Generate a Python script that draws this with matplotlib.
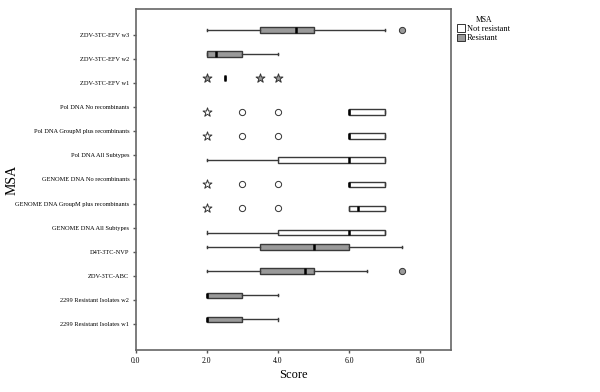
import matplotlib
matplotlib.use("Agg")
import matplotlib.pyplot as plt
from matplotlib.patches import Patch

plt.rcParams['font.family'] = ['Liberation Serif', 'DejaVu Serif']

# categories, bottom to top
categories = [
    '2299 Resistant Isolates w1', '2299 Resistant Isolates w2', 'ZDV-3TC-ABC',
    'D4T-3TC-NVP', 'GENOME DNA All Subtypes', 'GENOME DNA GroupM plus recombinants',
    'GENOME DNA No recombinants', 'Pol DNA All Subtypes',
    'Pol DNA GroupM plus recombinants', 'Pol DNA No recombinants',
    'ZDV-3TC-EFV w1', 'ZDV-3TC-EFV w2', 'ZDV-3TC-EFV w3',
]
# group of each box: 'R' = Resistant, 'N' = Not resistant
groups = ['R', 'R', 'R', 'R', 'N', 'N', 'N', 'N', 'N', 'N', 'R', 'R', 'R']

whislo = [2.0, 2.0, 2.0, 2.0, 2.0, 6.0, 6.0, 2.0, 6.0, 6.0, 2.5, 2.0, 2.0]
q1 = [2.0, 2.0, 3.5, 3.5, 4.0, 6.0, 6.0, 4.0, 6.0, 6.0, 2.5, 2.0, 3.5]
med = [2.0, 2.0, 4.75, 5.0, 6.0, 6.25, 6.0, 6.0, 6.0, 6.0, 2.5, 2.25, 4.5]
q3 = [3.0, 3.0, 5.0, 6.0, 7.0, 7.0, 7.0, 7.0, 7.0, 7.0, 2.5, 3.0, 5.0]
whishi = [4.0, 4.0, 6.5, 7.5, 7.0, 7.0, 7.0, 7.0, 7.0, 7.0, 2.5, 4.0, 7.0]

# outliers (circles) and extremes (stars)
outliers = [[], [], [7.5], [], [], [3.0, 4.0], [3.0, 4.0], [], [3.0, 4.0], [3.0, 4.0], [], [], [7.5]]
extremes = [[], [], [], [], [], [2.0], [2.0], [], [2.0], [2.0], [2.0, 3.5, 4.0], [], []]

fill = {'N': 'white', 'R': '#9a9a9a'}
offset = {'N': -0.2, 'R': 0.2}
edge = '#3a3a3a'

fig = plt.figure(figsize=(6, 3.92), dpi=100)
ax = fig.add_axes([0.226, 0.106, 0.526, 0.87])

for i in range(len(categories)):
    g = groups[i]
    y = i + offset[g]
    stats = [dict(med=med[i], q1=q1[i], q3=q3[i], whislo=whislo[i], whishi=whishi[i], fliers=[])]
    ax.bxp(stats, positions=[y], vert=False, widths=0.22, patch_artist=True,
           showfliers=False,
           boxprops=dict(facecolor=fill[g], edgecolor=edge, linewidth=1.0),
           medianprops=dict(color='black', linewidth=1.8),
           whiskerprops=dict(color=edge, linewidth=1.0),
           capprops=dict(color=edge, linewidth=1.0),
           capwidths=0.1)
    if outliers[i]:
        ax.scatter(outliers[i], [y] * len(outliers[i]), marker='o', s=20,
                   facecolor=fill[g], edgecolor='#333333', linewidth=0.7, zorder=3)
    if extremes[i]:
        ax.scatter(extremes[i], [y] * len(extremes[i]), marker='*', s=45,
                   facecolor=fill[g], edgecolor='#333333', linewidth=0.7, zorder=3)

ax.set_xlim(0, 8.87)
ax.set_ylim(-1.09, 13.05)
ax.set_yticks(range(len(categories)))
ax.set_yticklabels(categories, fontsize=4.6)
ax.set_xticks([0, 2, 4, 6, 8])
ax.set_xticklabels(['0.0', '2.0', '4.0', '6.0', '8.0'], fontsize=5.5)
ax.tick_params(axis='both', length=2.5, width=1, color='#555555', pad=2)
for s in ax.spines.values():
    s.set_color('#666666')
    s.set_linewidth(1.2)

ax.set_xlabel('Score', fontsize=9, labelpad=3)
ax.set_ylabel('MSA', fontsize=10)
ax.yaxis.set_label_coords(-0.37, 0.5)

handles = [Patch(facecolor='white', edgecolor='#333333', linewidth=0.7, label='Not resistant'),
           Patch(facecolor='#9a9a9a', edgecolor='#333333', linewidth=0.7, label='Resistant')]
leg = fig.legend(handles=handles, title='MSA', loc='upper left',
                 bbox_to_anchor=(0.752, 0.975), fontsize=6, title_fontsize=5.5,
                 frameon=False, handlelength=1.0, handleheight=1.0,
                 handletextpad=0.2, labelspacing=0.1, borderpad=0.2)

fig.savefig('out.png', dpi=100)
